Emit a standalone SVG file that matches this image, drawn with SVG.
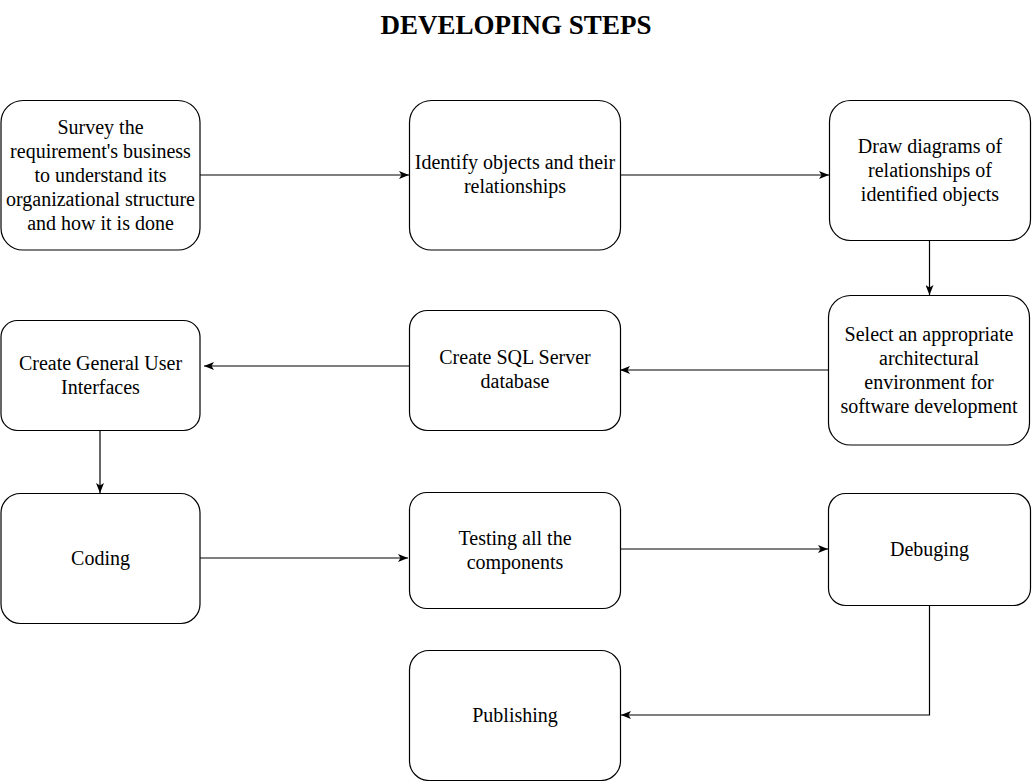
<svg xmlns="http://www.w3.org/2000/svg" width="1032" height="781" viewBox="0 0 1032 781">
<style>
.box{fill:#ffffff;stroke:#000000;stroke-width:1.2}
.t{font-family:"Liberation Serif","Times New Roman",serif;font-size:20px;fill:#000000;text-anchor:middle}
.title{font-family:"Liberation Serif","Times New Roman",serif;font-size:27px;font-weight:bold;fill:#000000;text-anchor:middle}
.c{fill:none;stroke:#000000;stroke-width:1.2}
</style>
<defs>
<marker id="arr" viewBox="0 0 10 8" refX="10" refY="4" markerWidth="10" markerHeight="8" markerUnits="userSpaceOnUse" orient="auto">
<path d="M0,0 L10,4 L0,8 L2.5,4 z" fill="#000000"/>
</marker>
</defs>
<rect width="1032" height="781" fill="#ffffff"/>
<text class="title" x="516" y="34">DEVELOPING STEPS</text>

<g id="connectors">
<path class="c" d="M200,175 L409,175" marker-end="url(#arr)"/>
<path class="c" d="M620,175 L829,175" marker-end="url(#arr)"/>
<path class="c" d="M929.5,240 L929.5,295" marker-end="url(#arr)"/>
<path class="c" d="M828.5,370 L620,370" marker-end="url(#arr)"/>
<path class="c" d="M409,366 L204,366" marker-end="url(#arr)"/>
<path class="c" d="M100,430 L100,493" marker-end="url(#arr)"/>
<path class="c" d="M200,558 L408,558" marker-end="url(#arr)"/>
<path class="c" d="M620,549 L828,549" marker-end="url(#arr)"/>
<path class="c" d="M929.5,605 L929.5,715 L621,715" marker-end="url(#arr)"/>
</g>

<g id="n1">
<rect class="box" x="1" y="100.5" width="199" height="149.5" rx="22" ry="22"/>
<text class="t" x="100.5" y="134">Survey the</text>
<text class="t" x="100.5" y="158">requirement's business</text>
<text class="t" x="100.5" y="182">to understand its</text>
<text class="t" x="100.5" y="206">organizational structure</text>
<text class="t" x="100.5" y="230">and how it is done</text>
</g>
<g id="n2">
<rect class="box" x="409.5" y="100.5" width="211" height="149.5" rx="22" ry="22"/>
<text class="t" x="515" y="169">Identify objects and their</text>
<text class="t" x="515" y="193">relationships</text>
</g>
<g id="n3">
<rect class="box" x="829.5" y="100.5" width="201" height="140" rx="21" ry="21"/>
<text class="t" x="930" y="153">Draw diagrams of</text>
<text class="t" x="930" y="177">relationships of</text>
<text class="t" x="930" y="201">identified objects</text>
</g>
<g id="n4">
<rect class="box" x="828.5" y="295.5" width="201" height="149.5" rx="22" ry="22"/>
<text class="t" x="929" y="341">Select an appropriate</text>
<text class="t" x="929" y="365">architectural</text>
<text class="t" x="929" y="389">environment for</text>
<text class="t" x="929" y="413">software development</text>
</g>
<g id="n5">
<rect class="box" x="409.5" y="310.5" width="211" height="120" rx="18" ry="18"/>
<text class="t" x="515" y="364">Create SQL Server</text>
<text class="t" x="515" y="388">database</text>
</g>
<g id="n6">
<rect class="box" x="1" y="320.5" width="199" height="110" rx="16.5" ry="16.5"/>
<text class="t" x="100.5" y="370">Create General User</text>
<text class="t" x="100.5" y="394">Interfaces</text>
</g>
<g id="n7">
<rect class="box" x="1" y="493.5" width="199" height="130" rx="19.5" ry="19.5"/>
<text class="t" x="100.5" y="565">Coding</text>
</g>
<g id="n8">
<rect class="box" x="409.5" y="492.5" width="211" height="116" rx="17.5" ry="17.5"/>
<text class="t" x="515" y="545">Testing all the</text>
<text class="t" x="515" y="569">components</text>
</g>
<g id="n9">
<rect class="box" x="828.5" y="493.5" width="202" height="112" rx="17" ry="17"/>
<text class="t" x="929.5" y="556">Debuging</text>
</g>
<g id="n10">
<rect class="box" x="409.5" y="650.5" width="211" height="130" rx="19.5" ry="19.5"/>
<text class="t" x="515" y="722">Publishing</text>
</g>
</svg>
